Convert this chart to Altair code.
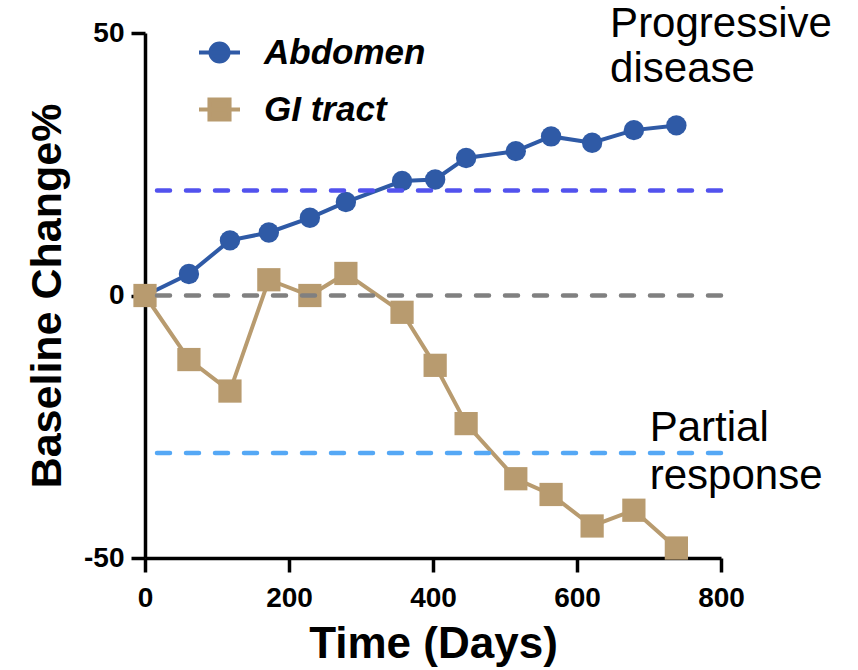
import altair as alt
import pandas as pd

# Measurement days shared by both lesion sites
days = [0, 61, 118, 172, 229, 279, 357, 403, 446, 515, 564, 621, 679, 738]
abdomen = [0, 4.1, 10.5, 12.0, 14.8, 17.8, 21.8, 22.1, 26.2, 27.5, 30.3, 29.1, 31.5, 32.4]
gi_tract = [0, -12.2, -18.2, 3.0, 0, 4.2, -3.2, -13.3, -24.4, -34.9, -37.9, -43.9, -40.9, -48.1]

series_names = ["Abdomen", "GI tract"]
series_colors = ["#2F5AA6", "#B89B6F"]

# Reference levels: progressive disease, baseline, partial response
thresholds = [20, 0, -30]
threshold_colors = ["#5252EE", "#808080", "#55A8F5"]

x_ticks = [0, 200, 400, 600, 800]
y_ticks = [-50, 0, 50]

note_text = ["Progressive", "disease", "Partial", "response"]
note_day = [646, 646, 701, 701]
note_change = [49.3, 40.7, -27.8, -36.9]

# Legend glyphs: a short line segment through the marker
legend_shapes = [
    "M-1,0L1,0M0.44,0A0.44,0.44,0,1,1,-0.44,0A0.44,0.44,0,1,1,0.44,0Z",
    "M-1,0L1,0M-0.49,-0.49L0.49,-0.49L0.49,0.49L-0.49,0.49Z",
]

n = len(days)
data = pd.DataFrame({
    "day": days + days,
    "change": abdomen + gi_tract,
    "site": [series_names[0]] * n + [series_names[1]] * n,
    "hue": [series_colors[0]] * n + [series_colors[1]] * n,
})
notes = pd.DataFrame({"day": note_day, "change": note_change, "note": note_text})

x_enc = alt.X(
    "day:Q",
    scale=alt.Scale(domain=[0, 800], nice=False),
    axis=alt.Axis(values=x_ticks, title="Time (Days)", titleFontSize=44,
                  labelPadding=12, titlePadding=10, labelFlush=False,
                  labelExpr="'' + datum.value"),
)
y_enc = alt.Y(
    "change:Q",
    scale=alt.Scale(domain=[-50, 50], nice=False),
    axis=alt.Axis(values=y_ticks, title="Baseline Change%", titleFontSize=43,
                  labelPadding=7, titlePadding=14, labelFlush=False,
                  labelExpr="'' + datum.value"),
)

# Series colours are taken straight from the data, so no colour legend is built here
color_enc = alt.Color("hue:N", scale=None)

base = alt.Chart(data).encode(x=x_enc, y=y_enc)

lines = base.mark_line(strokeWidth=4).encode(color=color_enc, detail="site:N")

abdomen_pts = base.transform_filter(alt.datum.site == series_names[0]).mark_circle(
    size=415, opacity=1).encode(color=color_enc)
gi_pts = base.transform_filter(alt.datum.site == series_names[1]).mark_square(
    size=540, opacity=1).encode(color=color_enc)

site_scale = alt.Scale(domain=series_names, range=series_colors)
legend_def = alt.Legend(
    title=None, orient="none", legendX=52, legendY=-3, direction="vertical",
    symbolSize=1681, symbolStrokeWidth=4, symbolOpacity=1,
    labelFont="Liberation Sans", labelFontSize=35, labelFontWeight="bold",
    labelFontStyle="italic", labelColor="black", labelOffset=22, labelLimit=400,
    rowPadding=16, padding=0,
)
# Carries only the legend: entries come from the fixed scale domains
legend_layer = base.transform_filter("false").mark_point(filled=True, strokeWidth=4).encode(
    fill=alt.Fill("site:N", scale=site_scale, legend=legend_def),
    stroke=alt.Stroke("site:N", scale=site_scale, legend=legend_def),
    shape=alt.Shape("site:N", scale=alt.Scale(domain=series_names, range=legend_shapes),
                    legend=legend_def),
)

rules = []
for level, col in zip(thresholds, threshold_colors):
    rules.append(
        alt.Chart(pd.DataFrame({"change": [level]}))
        .mark_rule(color=col, strokeWidth=4.5, strokeDash=[13, 16], strokeCap="round")
        .encode(y=y_enc)
    )

labels = alt.Chart(notes).mark_text(
    align="left", baseline="alphabetic", font="Liberation Sans", fontSize=42, color="black"
).encode(x=x_enc, y=y_enc, text="note:N")

chart = alt.layer(lines, abdomen_pts, gi_pts, legend_layer, *rules, labels).properties(
    width=576,
    height=525,
    padding={"left": 145, "top": 33, "right": 137, "bottom": 112},
    autosize="none",
).configure_view(stroke=None).configure_axis(
    domainColor="black", domainWidth=3.5, tickColor="black", tickWidth=3.5, tickSize=14,
    grid=False, labelFont="Liberation Sans", labelFontWeight="bold", labelFontSize=28,
    labelColor="black", titleFont="Liberation Sans", titleFontWeight="bold", titleColor="black",
)

chart.save("out.html", embed_options={"renderer": "svg", "actions": False})
